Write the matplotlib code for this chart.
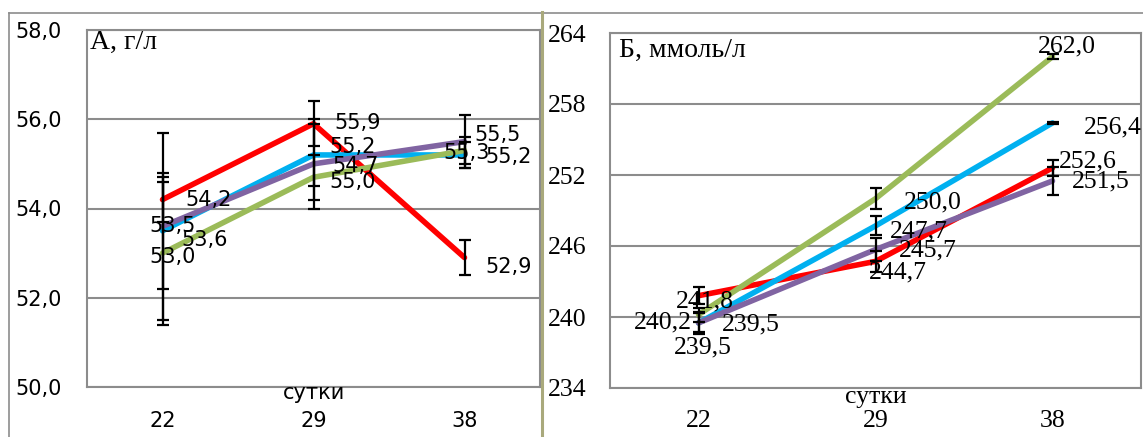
import matplotlib
matplotlib.use('Agg')
import matplotlib.pyplot as plt
from matplotlib.lines import Line2D

W, H = 1143, 437

days = ['22', '29', '38']
colors = {'red': '#FF0000', 'blue': '#00B0F0', 'green': '#9BBB59', 'purple': '#8064A2'}
order = ['red', 'blue', 'green', 'purple']

# panel A, g/l
a_vals = {
    'red': [54.2, 55.9, 52.9],
    'blue': [53.5, 55.2, 55.2],
    'green': [53.0, 54.7, 55.3],
    'purple': [53.6, 55.0, 55.5],
}
a_err = {
    'red': [0.5, 0.5, 0.4],
    'blue': [1.3, 0.7, 0.3],
    'green': [1.6, 0.5, 0.3],
    'purple': [2.1, 1.0, 0.6],
}
a_ticks = [50.0, 52.0, 54.0, 56.0, 58.0]
# label offsets (px) from each point
a_off = {
    'red': [(46, 0), (44, 1), (44, -9)],
    'blue': [(10, 5), (39, 8), (44, -2)],
    'green': [(10, -4), (42, 11), (2, -3)],
    'purple': [(42, -14), (39, -18), (33, 7)],
}

# panel B, mmol/l
b_vals = {
    'red': [241.8, 244.7, 252.6],
    'blue': [239.5, 247.7, 256.4],
    'green': [240.2, 250.0, 262.0],
    'purple': [239.5, 245.7, 251.5],
}
b_err = {
    'red': [0.7, 0.9, 0.7],
    'blue': [0.8, 0.8, 0.1],
    'green': [0.6, 0.9, 0.2],
    'purple': [0.9, 1.0, 1.2],
}
b_ticks = [234, 240, 246, 252, 258, 264]
b_off = {
    'red': [(6, -6), (22, -11), (35, 6)],
    'blue': [(52, -2), (43, -6), (60, -5)],
    'green': [(-36, -8), (57, -4), (14, 10)],
    'purple': [(4, -25), (52, -1), (48, -1)],
}

grid_c = '#8C8C8C'
sans = 'DejaVu Sans'
serif = 'Liberation Serif'


def fmt(v):
    return f'{v:.1f}'.replace('.', ',')


def panel(rect, vals, errs, offs, ticks, tick_fmt, family, fsize, title, title_xy, xlab_y, pads):
    ax = fig.add_axes([rect[0] / W, 1 - rect[3] / H, (rect[2] - rect[0]) / W, (rect[3] - rect[1]) / H])
    x = range(len(days))
    for k in order:
        ax.plot(x, vals[k], color=colors[k], lw=4, solid_joinstyle='round',
                solid_capstyle='round', zorder=2)
    for k in order:
        ax.errorbar(x, vals[k], yerr=errs[k], fmt='none', ecolor='black',
                    elinewidth=1.6, capsize=4.5, capthick=1.6, zorder=3)
    for k in order:
        for i, v in enumerate(vals[k]):
            ax.annotate(fmt(v), (i, v), xytext=offs[k][i], textcoords='offset pixels',
                        ha='center', va='center', fontsize=fsize, family=family, zorder=4)
    ax.set_xlim(-0.5, 2.5)
    ax.set_ylim(ticks[0], ticks[-1])
    ax.set_yticks(ticks)
    ax.set_yticklabels([tick_fmt(t) for t in ticks], family=family, fontsize=fsize)
    ax.set_xticks(list(x))
    ax.set_xticklabels(days, family=family, fontsize=fsize)
    ax.tick_params(length=0)
    ax.tick_params(axis='y', pad=pads[0])
    ax.tick_params(axis='x', pad=pads[1])
    ax.grid(axis='y', color=grid_c, lw=1.5)
    ax.set_axisbelow(True)
    for s in ax.spines.values():
        s.set_color(grid_c)
        s.set_linewidth(1.5)
    ax.text(title_xy[0], title_xy[1], title, transform=ax.transAxes, ha='left',
            va='center', fontsize=20, family=serif)
    ax.text(0.5, xlab_y, 'сутки', transform=ax.transAxes, ha='center', va='center',
            fontsize=fsize, family=family)
    return ax


fig = plt.figure(figsize=(W / 100, H / 100), dpi=100)

panel((87, 30, 540, 387), a_vals, a_err, a_off, a_ticks, lambda t: fmt(t), sans, 15,
      'А, г/л', (0.007, 0.964), -0.017, (18, 17))
panel((610, 33, 1141, 388), b_vals, b_err, b_off, b_ticks, lambda t: str(t), serif, 18.5,
      'Б, ммоль/л', (0.017, 0.952), -0.025, (17, 16))

# outer chart frames
fig.add_artist(Line2D([9 / W, 9 / W], [0, 1 - 13 / H], color=grid_c, lw=1.2))
fig.add_artist(Line2D([9 / W, 1], [1 - 13 / H, 1 - 13 / H], color=grid_c, lw=1.2))
fig.add_artist(Line2D([542 / W, 542 / W], [0, 1 - 12 / H], color='#A9A97C', lw=2.2))

fig.savefig('out.png', dpi=100)
